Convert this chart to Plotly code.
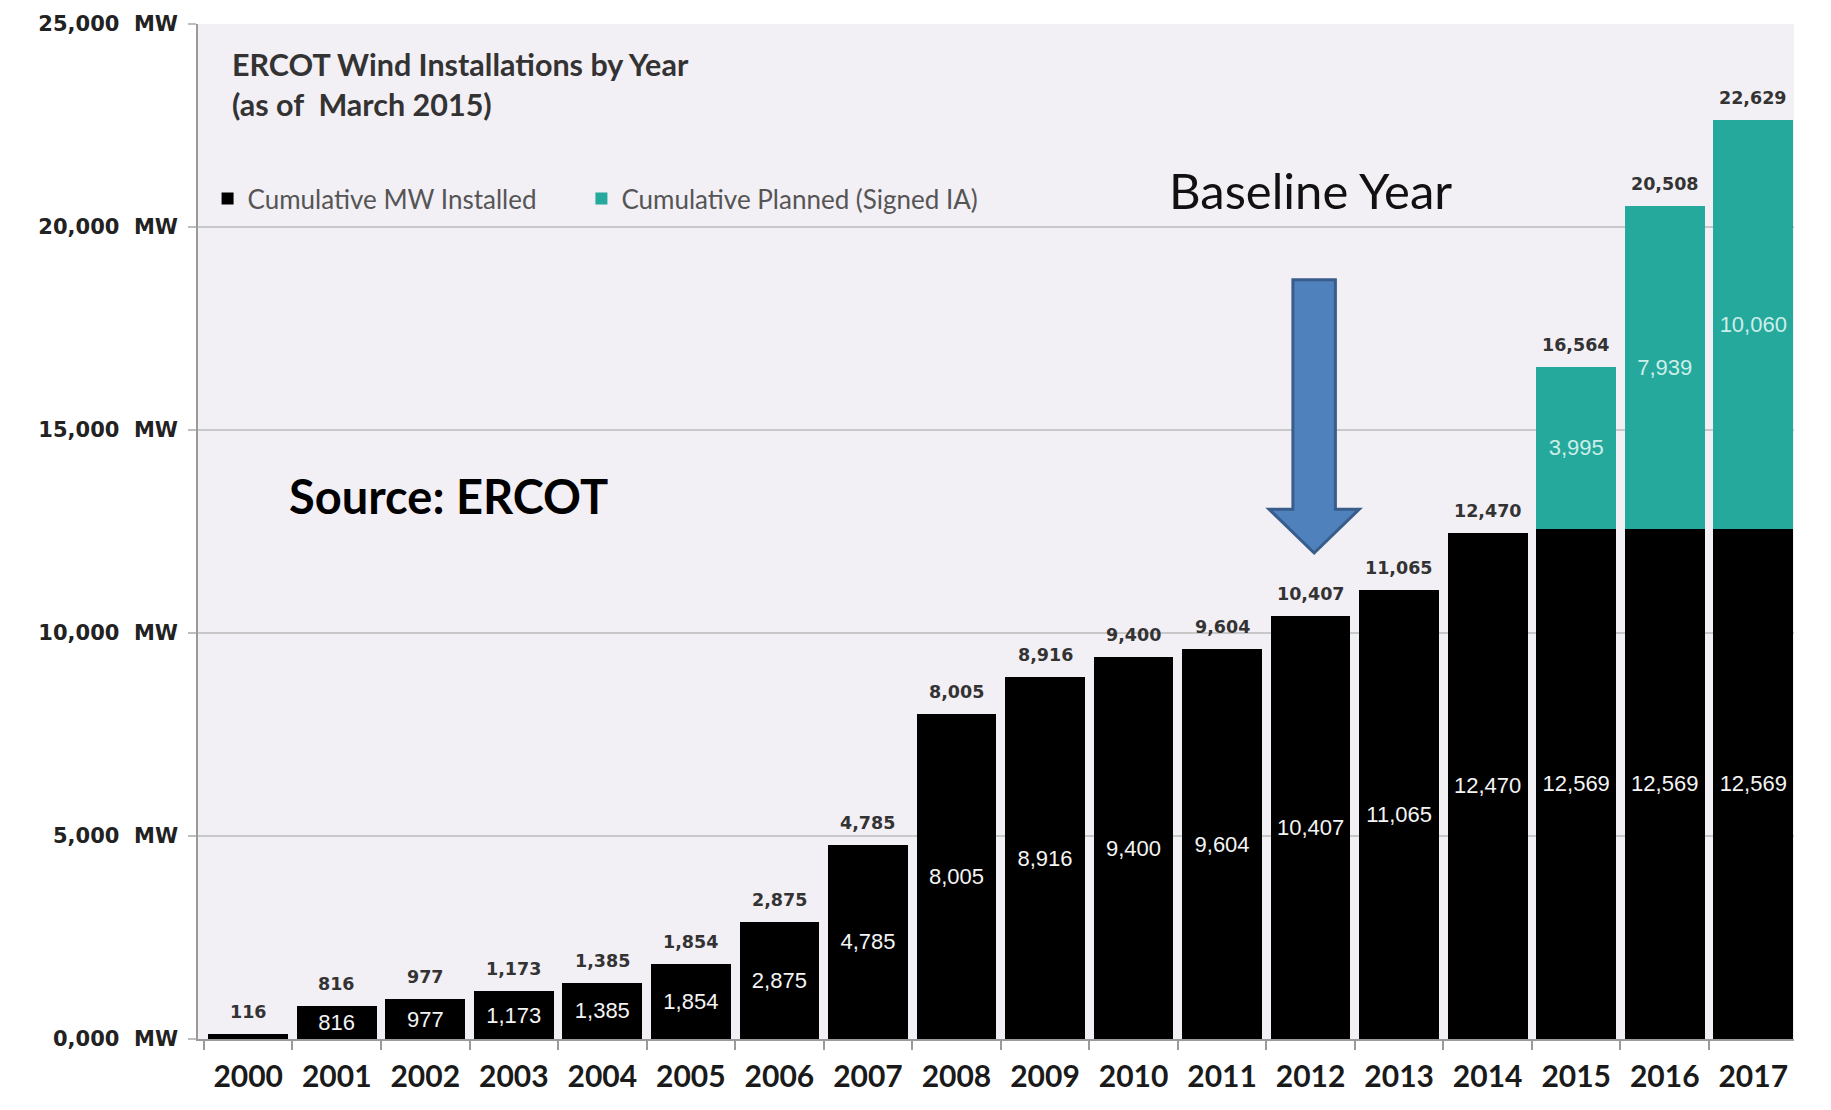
import plotly.graph_objects as go

years = [str(y) for y in range(2000, 2018)]
installed = [116, 816, 977, 1173, 1385, 1854, 2875, 4785, 8005, 8916, 9400, 9604,
             10407, 11065, 12470, 12569, 12569, 12569]
planned = [0] * 15 + [3995, 7939, 10060]
y_tickvals = [0, 5000, 10000, 15000, 20000, 25000]
y_ticktext = ["0,000  MW", "5,000  MW", "10,000  MW", "15,000  MW", "20,000  MW", "25,000  MW"]
baseline_year = "2012"

idx = list(range(len(years)))
totals = [a + b for a, b in zip(installed, planned)]
pad = "\u00a0" * 6

fig = go.Figure()
fig.add_trace(go.Bar(
    x=idx, y=installed, name="Cumulative MW Installed" + pad,
    marker=dict(color="#000000", line=dict(width=0)),
    text=[f"{v:,}" if v > 500 else "" for v in installed],
    textposition="inside", insidetextanchor="middle", constraintext="none",
    textfont=dict(family="Liberation Sans", size=22, color="#f4f4f4"),
    hoverinfo="skip",
))
fig.add_trace(go.Bar(
    x=idx, y=planned, name="Cumulative Planned (Signed IA)",
    marker=dict(color="#25a99c", line=dict(width=0)),
    text=[f"{v:,}" if v > 0 else "" for v in planned],
    textposition="inside", insidetextanchor="middle", constraintext="none",
    textfont=dict(family="Liberation Sans", size=22, color="#cdeee9"),
    hoverinfo="skip",
))
for i, v in zip(idx, totals):
    fig.add_annotation(x=i, y=v, xref="x", yref="y", text=f"{v:,}", showarrow=False,
                       yanchor="bottom", yshift=10,
                       font=dict(family="DejaVu Sans", size=17.5, color="#333333", weight="bold"))

# Baseline arrow (data units)
c = years.index(baseline_year) + 0.04
sw, hw = 0.24, 0.51
ytop, ybase, ytip = 18700, 13050, 11970
path = (f"M {c-sw},{ytop} L {c+sw},{ytop} L {c+sw},{ybase} L {c+hw},{ybase} "
        f"L {c},{ytip} L {c-hw},{ybase} L {c-sw},{ybase} Z")
fig.add_shape(type="path", path=path, xref="x", yref="y",
              fillcolor="#4f81bd", line=dict(color="#385d8a", width=3), layer="above")

fig.add_annotation(x=c - 0.04, y=20900, xref="x", yref="y", text="Baseline Year", showarrow=False,
                   font=dict(family="Lato", size=49, color="#111111"), xanchor="center", yanchor="middle")
fig.add_annotation(x=0.056, y=0.535, xref="paper", yref="paper", text="<b>Source: ERCOT</b>",
                   showarrow=False, font=dict(family="Lato", size=47, color="#000000"),
                   xanchor="left", yanchor="middle")
fig.add_annotation(x=0.02, y=0.98, xref="paper", yref="paper",
                   text="<b>ERCOT Wind Installations by Year<br>(as of  March 2015)</b>",
                   showarrow=False, align="left", font=dict(family="Lato", size=30.5, color="#333333"),
                   xanchor="left", yanchor="top")

fig.update_layout(
    width=1831, height=1110,
    margin=dict(l=198, r=37, t=16, b=71),
    paper_bgcolor="#ffffff", plot_bgcolor="#f2eff5",
    barmode="stack", bargap=0.1,
    showlegend=True,
    legend=dict(orientation="h", x=0.006, y=0.828, xanchor="left", yanchor="middle",
                bgcolor="rgba(0,0,0,0)", font=dict(family="Lato", size=26, color="#555555"),
                itemwidth=30, traceorder="normal"),
    xaxis=dict(range=[-0.567, 17.46], tickvals=idx, ticktext=years, ticks="",
               tickfont=dict(family="Lato", size=30, color="#1a1a1a", weight="bold"),
               showgrid=False, zeroline=False, showline=True, linecolor="#9a9a9a", linewidth=1.5,
               minor=dict(tickvals=[i + 0.5 for i in idx[:-1]] + [-0.5], ticks="outside",
                          ticklen=9, tickcolor="#9a9a9a", tickwidth=1.5, showgrid=False),
               ticklabelstandoff=10),
    yaxis=dict(range=[0, 25000], tickvals=y_tickvals, ticktext=y_ticktext, ticks="outside",
               ticklen=8, tickcolor="#bdbdbd", tickwidth=1.5,
               tickfont=dict(family="DejaVu Sans", size=21, color="#222222", weight="bold"),
               showgrid=True, gridcolor="#c8c8c8", gridwidth=1.5, zeroline=False,
               showline=True, linecolor="#9a9a9a", linewidth=1.5, ticklabelstandoff=6),
)

fig.write_html("out.html")
